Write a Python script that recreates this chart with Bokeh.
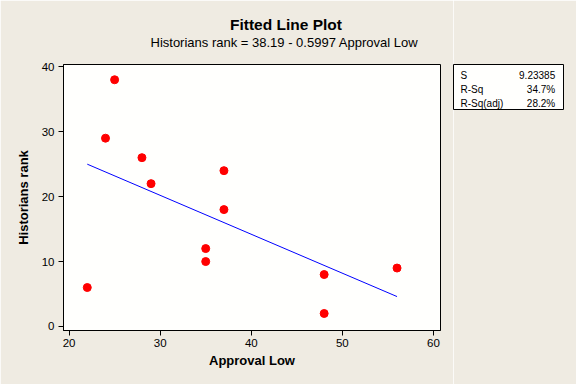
from bokeh.plotting import figure
from bokeh.models import Title, Range1d, FixedTicker
from bokeh.layouts import row
from bokeh.core.properties import value
from bokeh.embed import file_html
from bokeh.resources import INLINE

# ---- data ----
approval_low = [22, 24, 25, 28, 29, 35, 35, 37, 37, 48, 48, 56]
historians_rank = [6, 29, 38, 26, 22, 12, 10, 24, 18, 8, 2, 9]
intercept = 38.19
slope = -0.5997
x_ticks = [20, 30, 40, 50, 60]
y_ticks = [0, 10, 20, 30, 40]
title_text = "Fitted Line Plot"
subtitle_text = "Historians rank =  38.19 - 0.5997 Approval Low"
x_label = "Approval Low"
y_label = "Historians rank"
stat_names = ["S", "R-Sq", "R-Sq(adj)"]
stat_values = ["9.23385", "34.7%", "28.2%"]

FONT = "Liberation Sans"
BG = "#EFEBE2"
PLOT_BG = "#FFFFFD"

# layout (canvas px)
W, H = 576, 384
FL, FT, FW, FH = 63, 64, 377, 266
MAIN_W = 453
X0, X1 = 19.39, 60.77
Y0, Y1 = -0.62, 40.35

p = figure(width=MAIN_W, height=H, output_backend="svg", toolbar_location=None,
           title_location=None,
           x_range=Range1d(X0, X1), y_range=Range1d(Y0, Y1),
           frame_width=FW, frame_height=FH,
           min_border_left=FL, min_border_right=MAIN_W - FL - FW, min_border_top=FT,
           min_border_bottom=H - FT - FH)
p.border_fill_color = BG
p.background_fill_color = PLOT_BG
p.outline_line_color = "black"
p.outline_line_width = 1
p.xgrid.visible = False
p.ygrid.visible = False

for ax, ticks, lab_text in ((p.xaxis[0], x_ticks, x_label), (p.yaxis[0], y_ticks, y_label)):
    ax.ticker = FixedTicker(ticks=ticks)
    ax.minor_tick_line_color = None
    ax.major_tick_in = 0
    ax.major_tick_out = 5
    ax.major_tick_line_color = "black"
    ax.axis_line_color = "black"
    ax.major_label_text_font = FONT
    ax.major_label_text_font_size = "11.5px"
    ax.major_label_text_color = "black"
    ax.axis_label = lab_text
    ax.axis_label_text_font = FONT
    ax.axis_label_text_font_size = "13px"
    ax.axis_label_text_font_style = "bold"
    ax.axis_label_text_color = "black"
p.xaxis.major_label_standoff = 3
p.xaxis.axis_label_standoff = 3
p.yaxis.major_label_standoff = 4
p.yaxis.axis_label_standoff = 8

# titles (first added sits closest to the frame); trailing empty line lifts both
p.add_layout(Title(text=subtitle_text + "\n", align="left", offset=155 - FL - 5, standoff=0,
                   text_font=FONT, text_font_size="13px", text_font_style="normal",
                   text_line_height=1.0, text_color="black"), "above")
p.add_layout(Title(text=title_text, align="left", offset=234.5 - FL - 5, standoff=0,
                   text_font=FONT, text_font_size="15.5px", text_font_style="bold",
                   text_color="black"), "above")

# fitted line from coefficients
fx = [min(approval_low), max(approval_low)]
fy = [intercept + slope * v for v in fx]
p.line(fx, fy, line_color="#0000FF", line_width=1)
p.scatter(approval_low, historians_rank, size=8, fill_color="#FF0000", line_color="#FF0000")

# ---- statistics box: a small figure whose frame is the box ----
BL, BT, BW, BH = 453, 64, 110, 45
s = figure(width=W - MAIN_W, height=H, output_backend="svg", toolbar_location=None,
           title_location=None, x_axis_location=None, y_axis_location=None,
           x_range=Range1d(0, BW), y_range=Range1d(0, BH),
           frame_width=BW, frame_height=BH,
           min_border_left=BL - MAIN_W, min_border_right=W - BL - BW,
           min_border_top=BT, min_border_bottom=H - BT - BH)
s.border_fill_color = BG
s.background_fill_color = PLOT_BG
s.outline_line_color = "black"
s.outline_line_width = 1
s.xgrid.visible = False
s.ygrid.visible = False

row_base = [74.5 + i * 14.2 for i in range(len(stat_names))]
ys = [BT + BH - b for b in row_base]
s.text(x=[460 - BL] * len(stat_names), y=ys, text=stat_names,
       text_font=value(FONT), text_font_size="10px", text_align="left",
       text_baseline="alphabetic", text_color="black")
s.text(x=[554.7 - BL] * len(stat_values), y=ys, text=stat_values,
       text_font=value(FONT), text_font_size="10px", text_align="right",
       text_baseline="alphabetic", text_color="black")

layout = row(p, s, spacing=0)

open("out.html", "w").write(file_html(layout, INLINE))
